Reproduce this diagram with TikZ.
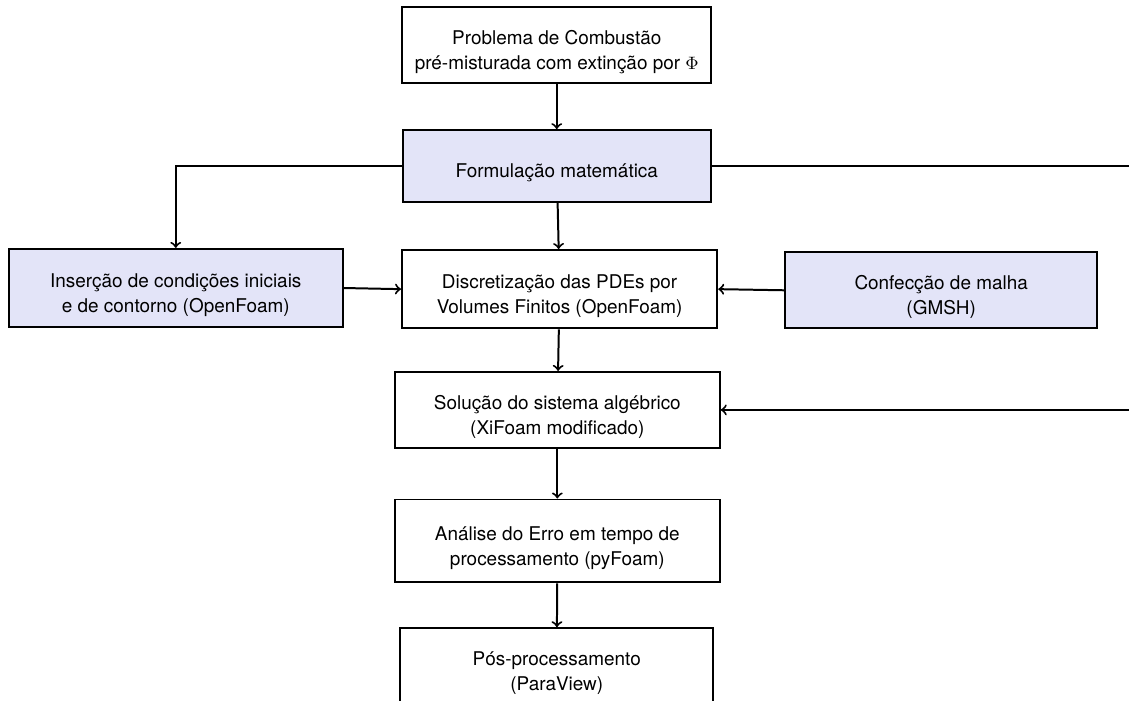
\documentclass[tikz,border=0pt]{standalone}
\usepackage{fontspec}
\setmainfont{TeX Gyre Heros}
\definecolor{lavanda}{RGB}{227,228,248}
\newcommand{\desce}{\rule{0pt}{14pt}}
\begin{document}
\begin{tikzpicture}[
    bloco/.style={rectangle, draw, line width=1pt, align=center, font=\fontsize{9.5pt}{12.5pt}\selectfont},
    blocoazul/.style={bloco, fill=lavanda},
    seta/.style={->, line width=1pt}
]
    \useasboundingbox (0,0) rectangle (19.913,-12.347);
    \node (prob) at (9.82, -0.79) [bloco, minimum width=5.45cm, minimum height=1.34cm] {\desce Problema de Combustão\\pré-misturada com extinção por $\Phi$};
    \node (form) at (9.82, -2.93) [blocoazul, minimum width=5.43cm, minimum height=1.27cm] {\desce Formulação matemática};
    \node (cond) at (3.10, -5.08) [blocoazul, minimum width=5.89cm, minimum height=1.38cm] {\desce Inserção de condições iniciais\\e de contorno (OpenFoam)};
    \node (disc) at (9.87, -5.10) [bloco, minimum width=5.56cm, minimum height=1.38cm] {\desce Discretização das PDEs por\\Volumes Finitos (OpenFoam)};
    \node (malha) at (16.60, -5.12) [blocoazul, minimum width=5.50cm, minimum height=1.34cm] {\desce Confecção de malha\\(GMSH)};
    \node (sol) at (9.83, -7.23) [bloco, minimum width=5.73cm, minimum height=1.34cm] {\desce Solução do sistema algébrico\\(XiFoam modificado)};
    \node (erro) at (9.83, -9.54) [bloco, minimum width=5.73cm, minimum height=1.46cm] {\desce Análise do Erro em tempo de\\processamento (pyFoam)};
    \node (pos) at (9.82, -11.75) [bloco, minimum width=5.52cm, minimum height=1.34cm] {\desce Pós-processamento\\(ParaView)};
    % retorno por fora da figura
    \coordinate (volta) at (20.4, -5);
    \draw[seta] (prob) -- (form);
    \draw[seta] (form) -- (disc);
    \draw[seta] (form.west) -| (cond.north);
    \draw[seta] (form.east) -| (volta) |- (sol.east);
    \draw[seta] (cond.east) -- (disc.west);
    \draw[seta] (malha.west) -- (disc.east);
    \draw[seta] (disc) -- (sol);
    \draw[seta] (sol) -- (erro);
    \draw[seta] (erro) -- (pos);
\end{tikzpicture}
\end{document}
